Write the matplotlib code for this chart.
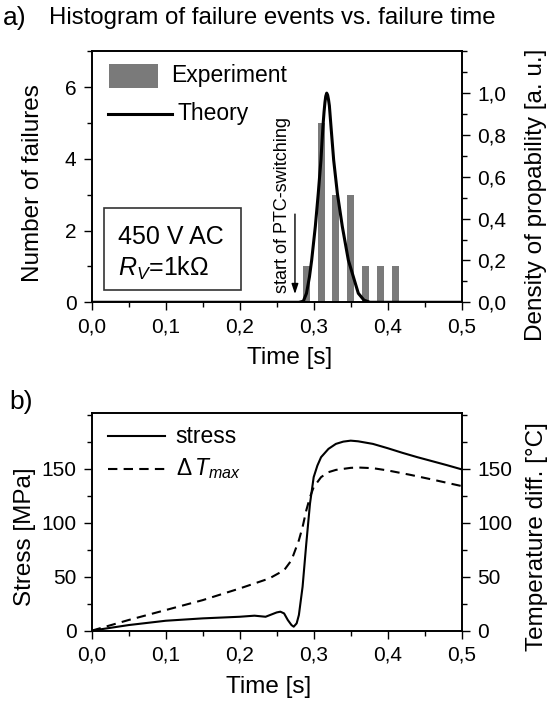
import numpy as np
import matplotlib
matplotlib.use('Agg')
import matplotlib.pyplot as plt
from matplotlib.patches import Rectangle
from matplotlib.lines import Line2D
from matplotlib.ticker import MultipleLocator, FuncFormatter

plt.rcParams['font.family'] = ['Liberation Sans', 'DejaVu Sans']
plt.rcParams['mathtext.fontset'] = 'custom'
plt.rcParams['mathtext.rm'] = 'Liberation Sans'
plt.rcParams['mathtext.it'] = 'Liberation Sans:italic'

# --- panel a) histogram of failures
bar_time = [0.29, 0.31, 0.33, 0.35, 0.37, 0.39, 0.41]
bar_count = [1, 5, 3, 3, 1, 1, 1]

theory_t = [0.0, 0.280, 0.286, 0.2903, 0.2943, 0.2973, 0.3022, 0.3062, 0.3098,
            0.3125, 0.3140, 0.3152, 0.3163, 0.3176, 0.3189, 0.3200, 0.3212,
            0.3234, 0.3270, 0.3320, 0.3387, 0.3468, 0.3536, 0.3603, 0.368,
            0.376, 0.5]
theory_p = [0.0, 0.0, 0.005, 0.043, 0.122, 0.202, 0.362, 0.521, 0.68,
            0.84, 0.91, 0.955, 0.985, 1.0, 0.99, 0.97, 0.94,
            0.84, 0.68, 0.521, 0.362, 0.202, 0.122, 0.043, 0.01,
            0.0, 0.0]

# --- panel b) stress and temperature difference
stress_t = [0.0, 0.05, 0.1, 0.15, 0.2, 0.22, 0.235, 0.25, 0.255, 0.26, 0.265,
            0.27, 0.273, 0.277, 0.28, 0.285, 0.29, 0.295, 0.3, 0.305, 0.31,
            0.32, 0.33, 0.34, 0.35, 0.36, 0.38, 0.40, 0.42, 0.44, 0.46, 0.48, 0.50]
stress = [0.0, 5.2, 9.2, 11.4, 12.9, 13.9, 12.9, 16.9, 17.6, 16.0, 9.9,
          5.2, 3.7, 6.8, 14.5, 40.7, 80.7, 117.7, 142.3, 153.0, 160.8,
          168.5, 173.1, 175.2, 176.1, 175.5, 173.1, 169.1, 164.8, 160.8, 157.1, 153.4, 149.5]

dT_t = [0.0, 0.05, 0.1, 0.15, 0.2, 0.24, 0.26, 0.27, 0.28, 0.285, 0.29, 0.295,
        0.30, 0.31, 0.32, 0.33, 0.35, 0.36, 0.38, 0.40, 0.43, 0.46, 0.50]
dT = [0.0, 9.9, 19.1, 28.3, 39.1, 48.4, 56.0, 65.3, 83.8, 96.1, 111.5, 123.8,
      133.0, 142.3, 146.9, 149.0, 150.9, 151.2, 150.6, 148.5, 144.5, 140.1, 134.0]

tick_fs = 15
label_fs = 17.5
leg_fs = 16.5


def comma(v, pos):
    return '{:.1f}'.format(v).replace('.', ',')


def style(ax, side):
    ax.tick_params(which='both', direction='out', width=1, labelsize=tick_fs, pad=5,
                   top=False, left=(side == 'left'), right=(side == 'right'),
                   labelleft=(side == 'left'), labelright=(side == 'right'))
    ax.tick_params(which='major', length=6)
    ax.tick_params(which='minor', length=3.5)
    for s in ax.spines.values():
        s.set_linewidth(1.2)


fig = plt.figure(figsize=(5.51, 7.02), dpi=100)

# ---------------- a)
ax1 = fig.add_axes([0.1664, 0.5694, 0.6715, 0.3575])
ax1.bar(bar_time, bar_count, width=0.0095, color='#7a7a7a', zorder=2)
ax1.set_xlim(0, 0.5)
ax1.set_ylim(0, 7)
ax1.xaxis.set_major_locator(MultipleLocator(0.1))
ax1.xaxis.set_minor_locator(MultipleLocator(0.05))
ax1.xaxis.set_major_formatter(FuncFormatter(comma))
ax1.yaxis.set_major_locator(MultipleLocator(2))
ax1.yaxis.set_minor_locator(MultipleLocator(1))
style(ax1, 'left')
ax1.set_xlabel('Time [s]', fontsize=label_fs, va='center')
ax1.xaxis.set_label_coords(0.535, -0.223)
ax1.set_ylabel('Number of failures', fontsize=label_fs, va='center')
ax1.yaxis.set_label_coords(-0.158, 0.477)

ax1r = ax1.twinx()
ax1r.plot(theory_t, theory_p, color='k', lw=2.2, zorder=3, solid_joinstyle='round')
ax1r.set_ylim(0, 1.2)
ax1r.yaxis.set_minor_locator(MultipleLocator(0.1))
ax1r.set_yticks(np.arange(0, 1.01, 0.2))
ax1r.yaxis.set_major_formatter(FuncFormatter(comma))
style(ax1r, 'right')
ax1r.set_ylabel('Density of propability [a. u.]', fontsize=label_fs, va='center', rotation=90)
ax1r.yaxis.set_label_coords(1.2008, 0.43)

# legend drawn by hand (different handle lengths in the original)
ax1.add_patch(Rectangle((0.0468, 0.855), 0.133, 0.093, transform=ax1.transAxes,
                        facecolor='#7a7a7a', edgecolor='none'))
ax1.text(0.216, 0.903, 'Experiment', transform=ax1.transAxes, fontsize=leg_fs, va='center')
ax1.add_line(Line2D([0.045, 0.216], [0.752, 0.752], transform=ax1.transAxes, color='k', lw=2.2))
ax1.text(0.231, 0.752, 'Theory', transform=ax1.transAxes, fontsize=leg_fs, va='center')

# condition box
ax1.add_patch(Rectangle((0.0332, 0.049), 0.3695, 0.328, transform=ax1.transAxes,
                        facecolor='white', edgecolor='#333333', lw=1.2, zorder=4))
ax1.text(0.0719, 0.261, '450 V AC', transform=ax1.transAxes, fontsize=18, va='center', zorder=5)
ax1.text(0.0719, 0.135, r'$R_V$=1k$\Omega$', transform=ax1.transAxes, fontsize=18, va='center', zorder=5)

ax1.text(0.2576, 0.25, 'start of PTC-switching', rotation=90, ha='center', va='bottom', fontsize=13)
ax1.annotate('', xy=(0.2747, 0.23), xytext=(0.2747, 2.46),
             arrowprops=dict(arrowstyle='-|>,head_width=0.2,head_length=0.6',
                             color='k', lw=1, mutation_scale=10, shrinkA=0, shrinkB=0))

fig.text(3 / 551, 1 - 18.3 / 702, 'a)', fontsize=19, va='center')
fig.text(49 / 551, 1 - 18.3 / 702, 'Histogram of failure events vs. failure time', fontsize=17.3, va='center')

# ---------------- b)
ax2 = fig.add_axes([0.1664, 0.1016, 0.6715, 0.3105])
ax2.plot(stress_t, stress, color='k', lw=1.5)
ax2.set_xlim(0, 0.5)
ax2.set_ylim(0, 202)
ax2.xaxis.set_major_locator(MultipleLocator(0.1))
ax2.xaxis.set_minor_locator(MultipleLocator(0.05))
ax2.xaxis.set_major_formatter(FuncFormatter(comma))
ax2.set_yticks([0, 50, 100, 150])
ax2.yaxis.set_minor_locator(MultipleLocator(25))
style(ax2, 'left')
ax2.set_xlabel('Time [s]', fontsize=label_fs, va='center')
ax2.xaxis.set_label_coords(0.478, -0.257)
ax2.set_ylabel('Stress [MPa]', fontsize=label_fs, va='center')
ax2.yaxis.set_label_coords(-0.181, 0.431)

ax2r = ax2.twinx()
ax2r.plot(dT_t, dT, color='k', lw=1.5, dashes=(4.5, 3))
ax2r.set_ylim(0, 202)
ax2r.set_yticks([0, 50, 100, 150])
ax2r.yaxis.set_minor_locator(MultipleLocator(25))
style(ax2r, 'right')
ax2r.set_ylabel('Temperature diff. [°C]', fontsize=label_fs, va='center', rotation=90)
ax2r.yaxis.set_label_coords(1.2035, 0.43)

ax2.add_line(Line2D([0.0432, 0.198], [0.893, 0.893], transform=ax2.transAxes, color='k', lw=1.5))
ax2.text(0.227, 0.893, 'stress', transform=ax2.transAxes, fontsize=leg_fs, va='center')
ax2.add_line(Line2D([0.0432, 0.198], [0.742, 0.742], transform=ax2.transAxes, color='k',
                    lw=1.5, dashes=(4.5, 3)))
ax2.text(0.227, 0.742, r'$\Delta\,T_{max}$', transform=ax2.transAxes, fontsize=leg_fs, va='center')

fig.text(9 / 551, 1 - 401.7 / 702, 'b)', fontsize=19, va='center')

fig.savefig('out.png', dpi=100)
